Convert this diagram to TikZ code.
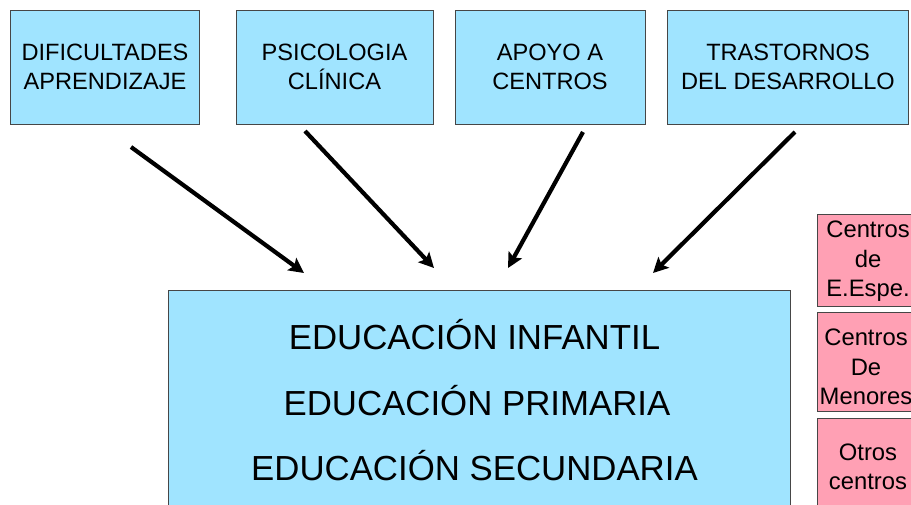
\documentclass[tikz,border=0pt]{standalone}
\usepackage{fontspec}
\setmainfont{Liberation Sans}
\usetikzlibrary{arrows.meta}
\definecolor{boxblue}{RGB}{160,228,255}
\definecolor{boxpink}{RGB}{255,160,180}
\definecolor{edge}{RGB}{70,70,70}
\begin{document}
\begin{tikzpicture}[x=1pt,y=-1pt,
  topbox/.style={draw=edge, line width=0.8pt, fill=boxblue, minimum width=#1, minimum height=114pt, inner sep=0pt},
  toptext/.style={align=center, font=\fontsize{23.6}{29}\selectfont, inner sep=0pt},
  bigtext/.style={font=\fontsize{34.8}{40}\selectfont, inner sep=0pt},
  pinkbox/.style={draw=edge, line width=0.8pt, fill=boxpink, minimum width=102pt, minimum height=#1, inner sep=0pt},
  pinktext/.style={align=center, font=\fontsize{23.8}{29.5}\selectfont, inner sep=0pt},
  bigarrow/.style={line width=4.2pt, -{Stealth[length=15pt,width=15pt,inset=3pt]}}]
\useasboundingbox (0,0) rectangle (911,504);
\clip (0,0) rectangle (911,504);
% top boxes
\node[topbox=189pt] (t1) at (104.5,67) {};
\node[toptext] (t1t) at (105,67) {DIFICULTADES\\APRENDIZAJE};
\node[topbox=197pt] (t2) at (334.5,67) {};
\node[toptext] (t2t) at (334.5,67) {PSICOLOGIA\\CLÍNICA};
\node[topbox=190pt] (t3) at (550,67) {};
\node[toptext] (t3t) at (550,67) {APOYO A\\CENTROS};
\node[topbox=241pt] (t4) at (787.5,67) {};
\node[toptext] (t4t) at (788,67) {TRASTORNOS\\DEL DESARROLLO};
% big box
\node[draw=edge, line width=0.8pt, fill=boxblue, minimum width=622pt, minimum height=230pt, inner sep=0pt] (big) at (479,405) {};
\node[bigtext] (e1) at (474.5,335) {EDUCACIÓN INFANTIL};
\node[bigtext] (e2) at (477,401) {EDUCACIÓN PRIMARIA};
\node[bigtext] (e3) at (474.5,466) {EDUCACIÓN SECUNDARIA};
% pink boxes
\node[pinkbox=92pt] (p1) at (868,260) {};
\node[pinktext] (p1t) at (868,261.5) {Centros\\de\\E.Espe.};
\node[pinkbox=99pt] (p2) at (868,361.5) {};
\node[pinktext] (p2t) at (866,367) {Centros\\De\\Menores};
\node[pinkbox=98pt] (p3) at (868,467) {};
\node[pinktext] (p3t) at (868,467) {Otros\\centros};
% arrows
\coordinate (a1s) at (131,147); \coordinate (a1e) at (304,273);
\coordinate (a2s) at (305,131); \coordinate (a2e) at (434,268);
\coordinate (a3s) at (583,132); \coordinate (a3e) at (508,268);
\coordinate (a4s) at (795,132); \coordinate (a4e) at (653,273);
\draw[bigarrow] (a1s) -- (a1e);
\draw[bigarrow] (a2s) -- (a2e);
\draw[bigarrow] (a3s) -- (a3e);
\draw[bigarrow] (a4s) -- (a4e);
\end{tikzpicture}
\end{document}
